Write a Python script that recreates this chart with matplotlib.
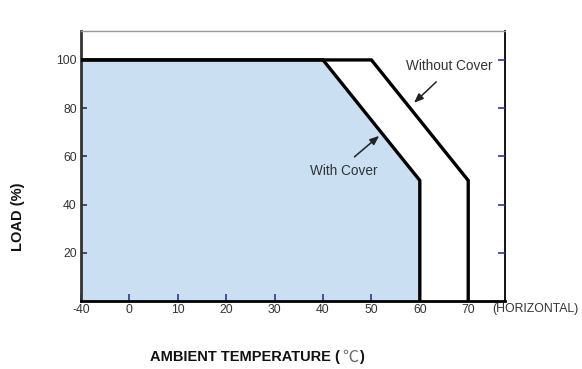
import numpy as np
import matplotlib
matplotlib.use("Agg")
import matplotlib.pyplot as plt

plt.rcParams['font.family'] = ['Liberation Sans', 'DejaVu Sans']

# Data (temperature in degC, load in %)
with_cover_temp = [-40, 40, 60, 60]
with_cover_load = [100, 100, 50, 0]
without_cover_temp = [-40, 50, 70, 70]
without_cover_load = [100, 100, 50, 0]
x_tick_values = [-40, 0, 10, 20, 30, 40, 50, 60, 70]
y_tick_values = [20, 40, 60, 80, 100]


def pos(t):
    """Broken axis: -40 is drawn one division left of 0."""
    t = np.asarray(t, dtype=float)
    return np.where(t < 0, t / 4.0, t)


fig = plt.figure(figsize=(5.82, 3.69), dpi=100)
ax = fig.add_axes([81 / 582, 68 / 369, (505 - 81) / 582, (301 - 31) / 369])

xw = pos(with_cover_temp)
xo = pos(without_cover_temp)

ax.fill_between(xw, with_cover_load, 0, color='#cadff2', zorder=1, linewidth=0)
ax.plot(xo, without_cover_load, color='black', lw=2.4, zorder=3,
        solid_joinstyle='miter')
ax.plot(xw, with_cover_load, color='black', lw=2.4, zorder=3,
        solid_joinstyle='miter')

ax.set_xlim(-9.9, 77.6)
ax.set_ylim(0, 112)

ax.set_xticks(pos(x_tick_values))
ax.set_xticklabels([str(v) for v in x_tick_values])
ax.set_yticks(y_tick_values)
ax.set_yticklabels([str(v) for v in y_tick_values])

ax.tick_params(axis='x', direction='in', length=5, width=1.2, colors='#2a3a8a',
               labelcolor='#333333', labelsize=8.8, pad=2)
ax.tick_params(axis='y', direction='in', length=4, width=1.2, colors='#333333',
               labelcolor='#333333', labelsize=8.8, pad=3)

# right ticks in blue (secondary axis for styling)
axr = ax.twinx()
axr.set_ylim(ax.get_ylim())
axr.set_yticks(y_tick_values)
axr.tick_params(axis='y', direction='in', length=5, width=1.2, colors='#2a3a8a',
                labelright=False)
for s in axr.spines.values():
    s.set_visible(False)

ax.spines['left'].set_linewidth(2.0)
ax.spines['left'].set_color('#333333')
ax.spines['bottom'].set_linewidth(2.0)
ax.spines['bottom'].set_color('black')
ax.spines['right'].set_linewidth(1.3)
ax.spines['right'].set_color('black')
ax.spines['top'].set_linewidth(1.0)
ax.spines['top'].set_color('#999999')

arrow_style = dict(arrowstyle='-|>,head_length=0.55,head_width=0.22',
                   color='#222222', lw=1.1, mutation_scale=10,
                   shrinkA=0, shrinkB=0)
ax.text(44.2, 54, 'With Cover', ha='center', va='center', fontsize=9.8,
        color='#333333', zorder=5)
ax.annotate('', xy=(51.6, 68.5), xytext=(46.5, 59.8), arrowprops=arrow_style,
            zorder=5)
ax.text(66, 97.5, 'Without Cover', ha='center', va='center', fontsize=9.8,
        color='#333333', zorder=5)
ax.annotate('', xy=(58.8, 82.2), xytext=(63.4, 90.9), arrowprops=arrow_style,
            zorder=5)

fig.text(492 / 582, 1 - 309 / 369, '(HORIZONTAL)', ha='left', va='center',
         fontsize=8.8, color='#333333')
fig.text(18 / 582, 1 - 217 / 369, 'LOAD (%)', rotation=90, ha='center',
         va='center', fontsize=10.5, fontweight='bold', color='#111111')

# x-axis title, built from pieces
fig.canvas.draw()
renderer = fig.canvas.get_renderer()
y_lab = 1 - 357 / 369
t1 = fig.text(150 / 582, y_lab, 'AMBIENT TEMPERATURE (', ha='left',
              va='center', fontsize=10.5, fontweight='bold', color='#111111')
bb = t1.get_window_extent(renderer)
t2 = fig.text((bb.x1 + 2) / 582, y_lab, '℃', ha='left', va='center',
              fontsize=11.5, color='#666666',
              family=['Noto Sans CJK SC', 'DejaVu Sans'])
bb2 = t2.get_window_extent(renderer)
fig.text((bb2.x1 + 1) / 582, y_lab, ')', ha='left', va='center',
         fontsize=10.5, fontweight='bold', color='#111111')

fig.savefig('out.png', dpi=100)
